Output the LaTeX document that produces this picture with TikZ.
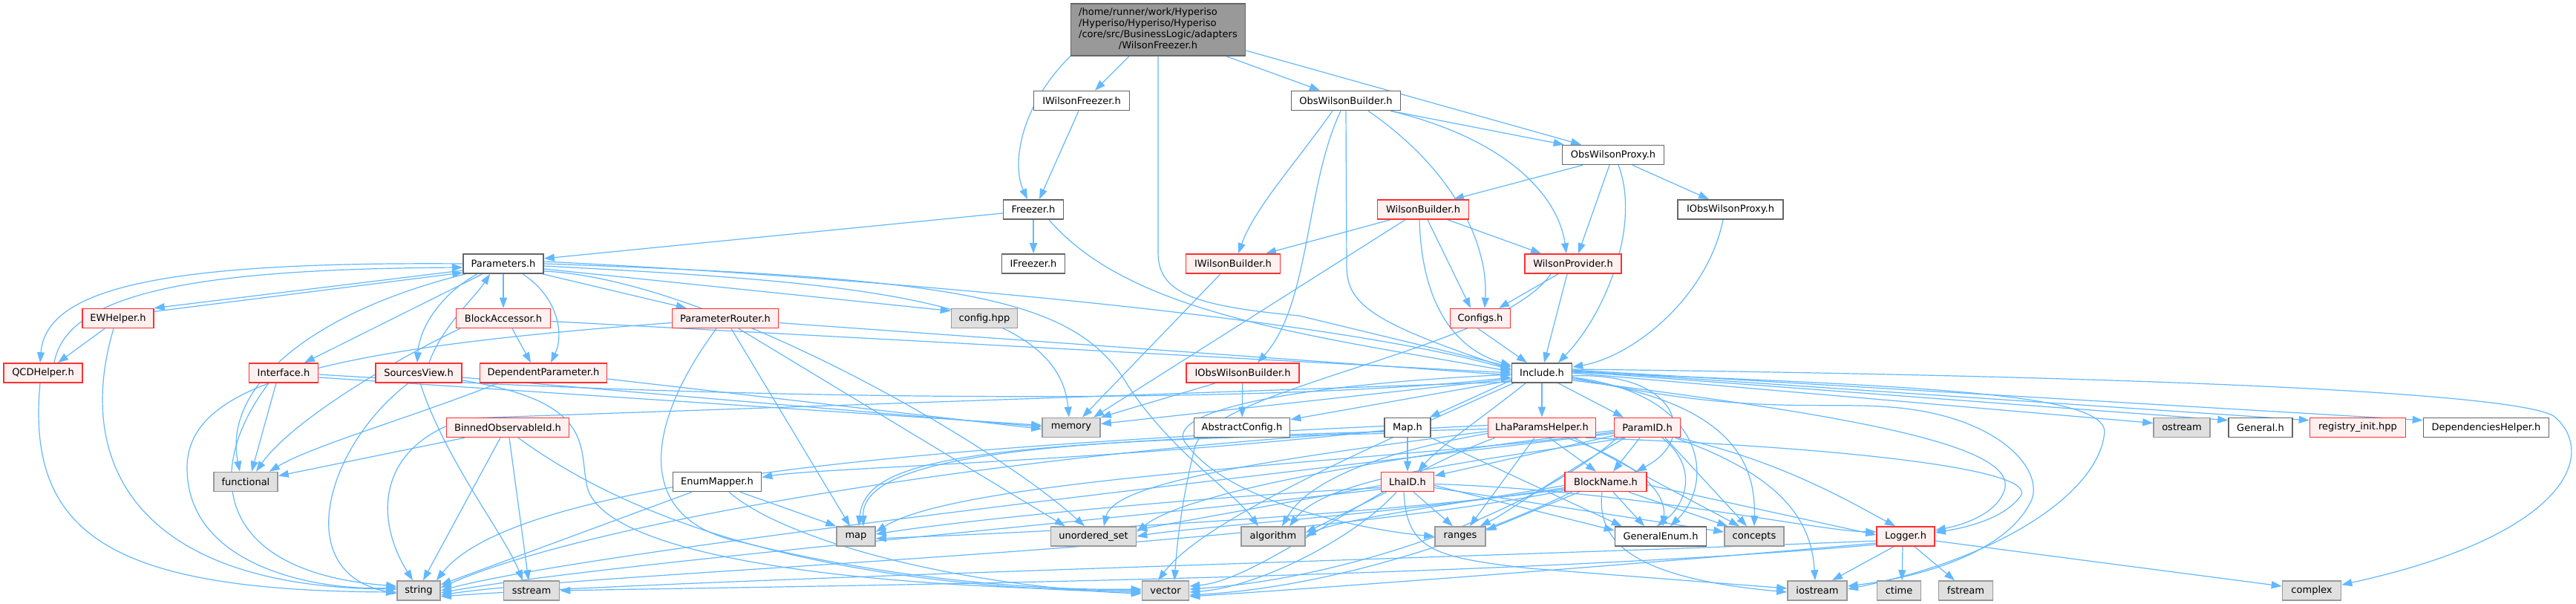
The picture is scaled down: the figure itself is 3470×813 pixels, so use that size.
\documentclass[tikz,border=0pt]{standalone}
\usepackage{fontspec}
\setmainfont{DejaVu Sans}
\usetikzlibrary{arrows.meta,calc}
\pgfdeclarelayer{bg}
\pgfsetlayers{bg,main}
\definecolor{edgec}{HTML}{63B8FF}
\definecolor{redb}{HTML}{FF3030}
\definecolor{redf}{HTML}{FFF0F0}
\definecolor{grayf}{HTML}{E0E0E0}
\definecolor{grayb}{HTML}{999999}
\definecolor{darkb}{HTML}{666666}
\definecolor{mainf}{HTML}{999999}
\tikzset{
  nb/.style={draw, line width=1.6pt, minimum height=26pt, inner sep=0pt, font=\fontsize{13}{15}\selectfont, anchor=center},
  rn/.style={nb, draw=redb, fill=redf},
  gn/.style={nb, draw=grayb, fill=grayf},
  wn/.style={nb, draw=darkb, fill=white},
  ed/.style={draw=edgec, line width=1.2pt, -{Triangle[length=14pt,width=10pt]}}
}
\begin{document}
\begin{tikzpicture}[x=1pt,y=-1pt]
\useasboundingbox (0,0) rectangle (3470,813);
% nodes
\node[nb, draw=darkb, fill=mainf, minimum width=235pt, minimum height=70pt] (top) at (1560,40) {\begin{tabular}{@{}l@{}}/home/runner/work/Hyperiso\\/Hyperiso/Hyperiso/Hyperiso\\/core/src/BusinessLogic/adapters\\\multicolumn{1}{@{}c@{}}{/WilsonFreezer.h}\end{tabular}};
\node[wn, minimum width=129pt] (IWF) at (1457,135.5) {IWilsonFreezer.h};
\node[wn, minimum width=147pt] (OWB) at (1813,135.5) {ObsWilsonBuilder.h};
\node[wn, minimum width=137pt] (OWP) at (2173,208.5) {ObsWilsonProxy.h};
\node[wn, minimum width=81pt] (Freezer) at (1392,282) {Freezer.h};
\node[rn, minimum width=123pt] (WB) at (1917,282) {WilsonBuilder.h};
\node[wn, minimum width=142pt] (IOWP) at (2331,282) {IObsWilsonProxy.h};
\node[wn, minimum width=108pt] (Params) at (678,355) {Parameters.h};
\node[wn, minimum width=85pt] (IFreezer) at (1392,355) {IFreezer.h};
\node[rn, minimum width=127pt] (IWB) at (1661,355) {IWilsonBuilder.h};
\node[rn, minimum width=130pt] (WP) at (2119,355) {WilsonProvider.h};
\node[rn, minimum width=96pt] (EW) at (159,428.5) {EWHelper.h};
\node[rn, minimum width=127pt] (BA) at (678,428.5) {BlockAccessor.h};
\node[rn, minimum width=143pt] (PR) at (977,428.5) {ParameterRouter.h};
\node[gn, minimum width=89pt] (cfghpp) at (1326,428.5) {config.hpp};
\node[rn, minimum width=81pt] (Configs) at (1994,428.5) {Configs.h};
\node[rn, minimum width=106pt] (QCD) at (58,502) {QCDHelper.h};
\node[rn, minimum width=93pt] (Interface) at (382,502) {Interface.h};
\node[rn, minimum width=116pt] (SV) at (564,502) {SourcesView.h};
\node[rn, minimum width=171pt] (DP) at (732,502) {DependentParameter.h};
\node[rn, minimum width=152pt] (IOWB) at (1674,502) {IObsWilsonBuilder.h};
\node[wn, minimum width=81pt] (Include) at (2077,502) {Include.h};
\node[rn, minimum width=165pt] (BO) at (684,575.5) {BinnedObservableId.h};
\node[gn, minimum width=78pt] (memory) at (1443,575.5) {memory};
\node[wn, minimum width=129pt] (AbsCfg) at (1673,575.5) {AbstractConfig.h};
\node[wn, minimum width=62pt] (Map) at (1896,575.5) {Map.h};
\node[rn, minimum width=145pt] (LPH) at (2077,575.5) {LhaParamsHelper.h};
\node[rn, minimum width=89pt] (ParamID) at (2219,575.5) {ParamID.h};
\node[gn, minimum width=76pt] (ostream) at (2939,575.5) {ostream};
\node[wn, minimum width=86pt] (General) at (3045,575.5) {General.h};
\node[rn, minimum width=129pt] (registry) at (3176,575.5) {registry\_init.hpp};
\node[wn, minimum width=169pt] (DepHelper) at (3349,575.5) {DependenciesHelper.h};
\node[gn, minimum width=86pt] (functional) at (331,648.5) {functional};
\node[wn, minimum width=119pt] (EM) at (966,648.5) {EnumMapper.h};
\node[rn, minimum width=71pt] (LhaID) at (1896,648.5) {LhaID.h};
\node[rn, minimum width=110pt] (BN) at (2163,648.5) {BlockName.h};
\node[gn, minimum width=52pt] (map) at (1153,722) {map};
\node[gn, minimum width=115pt] (uset) at (1473,722) {unordered\_set};
\node[gn, minimum width=86pt] (algorithm) at (1715,722) {algorithm};
\node[gn, minimum width=68pt] (ranges) at (1967,722) {ranges};
\node[wn, minimum width=123pt] (GE) at (2237,722) {GeneralEnum.h};
\node[gn, minimum width=80pt] (concepts) at (2363,722) {concepts};
\node[rn, minimum width=78pt] (Logger) at (2567,722) {Logger.h};
\node[gn, minimum width=58pt] (string) at (564,795) {string};
\node[gn, minimum width=75pt] (sstream) at (716,795) {sstream};
\node[gn, minimum width=63pt] (vector) at (1570,795) {vector};
\node[gn, minimum width=80pt] (iostream) at (2448,795) {iostream};
\node[gn, minimum width=59pt] (ctime) at (2558,795) {ctime};
\node[gn, minimum width=73pt] (fstream) at (2648,795) {fstream};
\node[gn, minimum width=79pt] (complex) at (3114,795) {complex};

\begin{pgfonlayer}{bg}
\fill[white] (0,0) rectangle (3470,813);
% top
\draw[ed] ($(top.south west)+(3,-3)$) .. controls (1375,140) and (1362,220) .. ($(Freezer.north)+(-8,0)$);
\draw[ed] ($(top.south)+(-39,0)$) -- ($(IWF.north)+(18,0)$);
\draw[ed] (top.south) -- (1560,340) .. controls (1560,395) and (1610,412) .. (1750,425) -- ($(Include.west)+(0,-8)$);
\draw[ed] ($(top.south)+(92,0)$) -- ($(OWB.north)+(-35,0)$);
\draw[ed] ($(top.east)+(0,28)$) -- ($(OWP.north)+(-43,0)$);
\draw[ed] ($(IWF.south)+(-4,0)$) -- ($(Freezer.north)+(8,0)$);
\draw[ed] ($(OWB.south)+(-18,0)$) .. controls (1745,220) and (1690,280) .. ($(IWB.north)+(7,0)$);
\draw[ed] ($(OWB.south)+(-7,0)$) .. controls (1758,250) and (1765,410) .. ($(IOWB.north)+(20,0)$);
\draw[ed] (OWB.south) -- (1814,360) .. controls (1815,410) and (1850,435) .. ($(Include.west)+(0,-5)$);
\draw[ed] ($(OWB.south)+(30,0)$) .. controls (1960,230) and (2005,330) .. ($(Configs.north)+(6,0)$);
\draw[ed] ($(OWB.south east)+(-14,0)$) .. controls (2040,190) and (2100,270) .. ($(WP.north)+(-9,0)$);
\draw[ed] ($(OWB.south east)+(-14,0)$) -- ($(OWP.north west)+(3,0)$);
\draw[ed] ($(OWP.south)+(-41,0)$) -- ($(WB.north)+(41,0)$);
\draw[ed] ($(OWP.south)+(-5,0)$) -- ($(WP.north)+(7,0)$);
\draw[ed] ($(OWP.south)+(7,0)$) .. controls (2210,300) and (2165,420) .. ($(Include.north)+(22,0)$);
\draw[ed] ($(OWP.south)+(26,0)$) -- ($(IOWP.north)+(-29,0)$);
\draw[ed] ($(Freezer.west)+(0,5)$) -- ($(Params.east)+(0,-7)$);
\draw[ed] (Freezer) -- (IFreezer);
\draw[ed] ($(Freezer.south)+(21,0)$) .. controls (1520,420) and (1750,450) .. ($(Include.west)+(0,-2)$);
\draw[ed] ($(IOWP.south)+(-10,0)$) .. controls (2300,400) and (2200,480) .. ($(Include.east)+(0,-8)$);
\draw[ed] ($(Configs.south)+(-3,0)$) -- ($(Include.north)+(-20,0)$);
\draw[ed] ($(WB.south)+(-44,0)$) -- ($(IWB.north)+(44,0)$);
\draw[ed] ($(WB.south)+(-24,0)$) -- ($(memory.north)+(30,0)$);
\draw[ed] ($(WB.south)+(-5,0)$) .. controls (1915,410) and (1960,470) .. ($(Include.west)+(0,-10)$);
\draw[ed] ($(WB.south)+(6,0)$) -- ($(Configs.north)+(-13,0)$);
\draw[ed] ($(WB.south)+(33,0)$) -- ($(WP.north)+(-43,0)$);
\draw[ed] ($(WP.south)+(-20,0)$) -- ($(Configs.north)+(25,0)$);
\draw[ed] ($(WP.south)+(-8,0)$) -- ($(Include.north)+(3,0)$);
\draw[ed] ($(WP.south)+(-30,0)$) .. controls (2020,470) and (1640,520) .. (1610,600) .. controls (1590,680) and (1585,740) .. ($(vector.north)+(12,0)$);
\draw[ed] ($(IWB.south)+(-17,0)$) -- ($(memory.north)+(15,0)$);
\draw[ed] (IOWB) -- (AbsCfg);
\draw[ed] ($(IOWB.south west)+(40,0)$) -- (memory.north east);
% Parameters
\draw[ed] (Params.west) .. controls (230,352) and (62,385) .. ($(QCD.north)+(-4,0)$);
\draw[ed] ($(QCD.north)+(15,0)$) .. controls (90,395) and (260,362) .. ($(Params.west)+(0,5)$);
\draw[ed] ($(Params.west)+(0,9)$) -- (EW.north east);
\draw[ed] ($(EW.north east)+(-3,5)$) -- ($(Params.west)+(0,12)$);
\draw[ed] (Params) -- (BA);
\draw[ed] ($(Params.south)+(-28,0)$) -- ($(Interface.north)+(28,0)$);
\draw[ed] ($(Params.south)+(-35,0)$) .. controls (595,395) and (565,440) .. ($(SV.north)+(-2,0)$);
\draw[ed] ($(SV.north)+(14,0)$) .. controls (595,440) and (640,400) .. ($(Params.south)+(-18,0)$);
\draw[ed] ($(Params.south)+(26,0)$) .. controls (752,400) and (760,450) .. ($(DP.north)+(10,0)$);
\draw[ed] ($(Params.south east)+(-2,0)$) -- ($(PR.north west)+(20,0)$);
\draw[ed] ($(Params.south west)+(4,0)$) .. controls (420,420) and (300,520) .. ($(functional.north)+(-8,0)$);
\draw[ed] ($(Params.east)+(0,7)$) -- ($(cfghpp.west)+(0,-10)$);
\draw[ed] ($(Params.east)+(0,3)$) .. controls (1150,380) and (1425,400) .. ($(memory.north)+(-3,0)$);
\draw[ed] (Params.east) .. controls (1300,375) and (1450,400) .. (1520,520) .. controls (1580,610) and (1660,660) .. ($(algorithm.north)+(-20,0)$);
\draw[ed] ($(Params.east)+(0,10)$) .. controls (950,375) and (1330,590) .. ($(uset.north)+(-12,0)$);
\draw[ed] ($(Params.east)+(0,-3)$) .. controls (1200,375) and (1800,430) .. ($(Include.west)+(0,-4)$);
% EW / QCD
\draw[ed] ($(EW.south)+(-18,0)$) -- ($(QCD.north)+(20,0)$);
\draw[ed] ($(EW.south)+(-6,0)$) .. controls (100,620) and (180,790) .. ($(string.west)+(0,-2)$);
\draw[ed] ($(QCD.south)+(-4,0)$) .. controls (35,720) and (150,795) .. ($(string.west)+(0,2)$);
% BlockAccessor
\draw[ed] ($(BA.south)+(12,0)$) -- ($(DP.north)+(-17,0)$);
\draw[ed] ($(BA.south west)+(6,0)$) .. controls (520,490) and (390,570) .. ($(functional.north)+(14,0)$);
\draw[ed] ($(BA.east)+(0,4)$) -- (Include.west);
% ParameterRouter
\draw[ed] ($(PR.west)+(0,6)$) .. controls (420,470) and (252,520) .. (252,630) .. controls (252,760) and (420,795) .. ($(string.west)+(0,-4)$);
\draw[ed] ($(PR.east)+(0,6)$) -- ($(Include.west)+(0,3)$);
\draw[ed] ($(PR.south)+(8,0)$) -- ($(map.north)+(-8,0)$);
\draw[ed] ($(PR.south)+(-12,0)$) .. controls (870,570) and (850,700) .. (1000,730) .. controls (1200,780) and (1400,795) .. ($(vector.west)+(0,-2)$);
\draw[ed] ($(PR.south)+(18,0)$) -- ($(uset.north west)+(20,0)$);
% Interface
\draw[ed] ($(Interface.south)+(-10,0)$) -- ($(functional.north)+(8,0)$);
\draw[ed] ($(Interface.south)+(-20,0)$) .. controls (275,630) and (285,770) .. ($(string.west)+(0,-6)$);
\draw[ed] ($(Interface.east)+(0,6)$) -- ($(memory.west)+(0,-3)$);
\draw[ed] ($(Interface.east)+(0,2)$) .. controls (1000,540) and (1700,545) .. ($(Include.west)+(0,6)$);
% SourcesView
\draw[ed] ($(SV.south)+(-14,0)$) .. controls (440,600) and (390,770) .. ($(string.west)+(0,4)$);
\draw[ed] ($(SV.south)+(2,0)$) .. controls (600,620) and (680,720) .. ($(sstream.north)+(-12,0)$);
\draw[ed] ($(SV.east)+(0,6)$) -- ($(memory.west)+(0,-1)$);
\draw[ed] ($(SV.east)+(0,10)$) .. controls (800,540) and (780,600) .. (790,650) .. controls (800,740) and (1100,790) .. (vector.west);
% DependentParameter
\draw[ed] ($(DP.south west)+(25,0)$) .. controls (560,560) and (420,600) .. ($(functional.north east)+(-12,0)$);
\draw[ed] ($(DP.east)+(0,8)$) -- ($(memory.west)+(0,2)$);
% BinnedObservableId
\draw[ed] ($(BO.south west)+(25,0)$) -- ($(functional.east)+(0,-8)$);
\draw[ed] ($(BO.south)+(-10,0)$) -- ($(string.north)+(6,0)$);
\draw[ed] ($(BO.south)+(2,0)$) -- ($(sstream.north)+(-4,0)$);
\draw[ed] ($(BO.south)+(14,0)$) .. controls (850,700) and (1100,790) .. ($(vector.west)+(0,2)$);
% EnumMapper
\draw[ed] ($(EM.south)+(31,0)$) -- (map.north west);
\draw[ed] ($(EM.south)+(-34,0)$) -- ($(string.east)+(0,-8)$);
\draw[ed] ($(EM.south)+(16,0)$) .. controls (1060,730) and (1300,790) .. ($(vector.west)+(0,4)$);
% Include
\draw[ed] ($(Include.west)+(0,8)$) -- ($(memory.east)+(0,-5)$);
\draw[ed] ($(Include.west)+(0,10)$) -- ($(AbsCfg.north east)+(0,3)$);
\draw[ed] ($(Include.south west)+(0,-4)$) -- ($(Map.north east)+(-2,0)$);
\draw[ed] (Include) -- (LPH);
\draw[ed] ($(Include.south)+(22,0)$) -- ($(ParamID.north)+(-32,0)$);
\draw[ed] ($(Include.south)+(-22,0)$) .. controls (2000,560) and (1940,600) .. ($(LhaID.north)+(14,0)$);
\draw[ed] ($(Include.east)+(0,4)$) .. controls (2260,500) and (2290,590) .. ($(BN.north east)+(-15,0)$);
\draw[ed] ($(Include.east)+(0,6)$) .. controls (2300,530) and (2310,650) .. ($(GE.north)+(13,0)$);
\draw[ed] ($(Include.east)+(0,8)$) .. controls (2330,540) and (2365,620) .. (concepts.north);
\draw[ed] (Include.east) -- ($(ostream.west)+(0,-6)$);
\draw[ed] ($(Include.east)+(0,-2)$) -- ($(General.north west)+(0,4)$);
\draw[ed] ($(Include.east)+(0,-3)$) -- ($(registry.north west)+(0,4)$);
\draw[ed] ($(Include.east)+(0,-4)$) -- ($(DepHelper.north west)+(0,4)$);
\draw[ed] ($(Include.east)+(0,-5)$) .. controls (2800,505) and (3380,525) .. (3440,560) .. controls (3500,610) and (3460,720) .. ($(complex.north east)+(0,6)$);
\draw[ed] ($(Include.east)+(0,6)$) .. controls (2350,560) and (2450,540) .. (2547,548) .. controls (2700,560) and (2760,640) .. (2733,680) .. controls (2700,740) and (2600,775) .. ($(iostream.east)+(0,-6)$);
\draw[ed] ($(Include.east)+(0,-1)$) .. controls (2600,520) and (2830,530) .. (2835,580) .. controls (2830,660) and (2700,750) .. ($(iostream.east)+(0,-2)$);
\draw[ed] ($(Include.south west)+(3,0)$) .. controls (1850,600) and (1620,700) .. ($(vector.north)+(-10,0)$);
\draw[ed] ($(Include.west)+(0,12)$) -- (630,563) .. controls (505,600) and (505,700) .. ($(string.north)+(-8,0)$);
\draw[ed] ($(Include.west)+(0,2)$) .. controls (1700,520) and (1560,560) .. (1600,600) .. controls (1660,680) and (1850,715) .. (ranges.west);
\draw[ed] ($(Include.east)+(0,10)$) .. controls (2500,560) and (2720,600) .. (2700,660) .. controls (2690,690) and (2650,705) .. ($(Logger.east)+(0,-8)$);
% Map
\draw[ed] (Map) -- (LhaID);
\draw[ed] ($(Map.west)+(0,4)$) .. controls (1500,620) and (1100,630) .. ($(EM.east)+(0,-6)$);
\draw[ed] ($(Map.west)+(0,8)$) .. controls (1300,595) and (1165,620) .. ($(map.north)+(4,0)$);
\draw[ed] ($(Map.west)+(0,-2)$) .. controls (1300,600) and (700,640) .. ($(string.north east)+(-6,0)$);
\draw[ed] (Map.south east) -- ($(GE.north west)+(10,0)$);
% LhaParamsHelper
\draw[ed] ($(LPH.south)+(10,0)$) -- ($(BN.north)+(-13,0)$);
\draw[ed] ($(LPH.south)+(-10,0)$) -- ($(ranges.north)+(13,0)$);
\draw[ed] ($(LPH.south east)+(-40,0)$) .. controls (2200,620) and (2245,660) .. ($(GE.north)+(3,0)$);
\draw[ed] ($(LPH.south east)+(-30,0)$) -- ($(concepts.north)+(-20,0)$);
\draw[ed] ($(LPH.south east)+(-15,0)$) .. controls (2450,600) and (2760,630) .. (2720,670) .. controls (2700,695) and (2660,708) .. ($(Logger.east)+(0,-5)$);
\draw[ed] ($(LPH.west)+(0,2)$) .. controls (1500,590) and (1160,600) .. ($(map.north)+(10,0)$);
\draw[ed] ($(LPH.west)+(0,5)$) .. controls (1700,620) and (1500,650) .. ($(uset.north)+(14,0)$);
\draw[ed] ($(LPH.west)+(0,8)$) .. controls (1850,610) and (1760,650) .. ($(algorithm.north)+(12,0)$);
\draw[ed] ($(LPH.south west)+(10,0)$) .. controls (1850,650) and (1700,780) .. ($(vector.east)+(0,-6)$);
\draw[ed] ($(LPH.west)+(0,-3)$) .. controls (1400,600) and (800,700) .. ($(string.east)+(0,-4)$);
% ParamID
\draw[ed] ($(ParamID.south)+(-10,0)$) -- ($(BN.north)+(10,0)$);
\draw[ed] ($(ParamID.south west)+(0,-3)$) -- ($(LhaID.east)+(0,-8)$);
\draw[ed] ($(ParamID.south)+(-30,0)$) .. controls (2100,640) and (2030,690) .. ($(ranges.north east)+(-8,0)$);
\draw[ed] ($(ParamID.south)+(20,0)$) .. controls (2290,630) and (2270,680) .. ($(GE.north)+(-5,0)$);
\draw[ed] ($(ParamID.south)+(24,0)$) -- ($(concepts.north)+(-10,0)$);
\draw[ed] ($(ParamID.south east)+(-4,0)$) .. controls (2400,620) and (2500,680) .. ($(Logger.north)+(-14,0)$);
\draw[ed] ($(ParamID.south east)+(-8,0)$) .. controls (2400,640) and (2440,700) .. ($(iostream.north)+(-3,0)$);
\draw[ed] ($(ParamID.south west)+(5,0)$) .. controls (2050,700) and (1800,780) .. ($(vector.east)+(0,-2)$);
\draw[ed] ($(ParamID.south west)+(15,0)$) .. controls (2000,620) and (1790,640) .. ($(algorithm.north)+(22,0)$);
\draw[ed] ($(ParamID.west)+(0,4)$) .. controls (1900,610) and (1600,660) .. ($(uset.east)+(0,-6)$);
\draw[ed] ($(ParamID.west)+(0,6)$) .. controls (1900,620) and (1300,640) .. ($(map.east)+(0,-6)$);
\draw[ed] ($(ParamID.west)+(0,8)$) .. controls (1700,640) and (800,740) .. (string.east);
% LhaID
\draw[ed] ($(LhaID.south)+(8,0)$) -- ($(ranges.north)+(-10,0)$);
\draw[ed] ($(LhaID.east)+(0,5)$) -- ($(GE.west)+(0,-8)$);
\draw[ed] ($(LhaID.east)+(0,8)$) -- ($(concepts.west)+(0,-6)$);
\draw[ed] ($(LhaID.east)+(0,3)$) .. controls (2200,660) and (2450,715) .. ($(Logger.west)+(0,-6)$);
\draw[ed] ($(LhaID.south)+(-5,0)$) .. controls (1895,740) and (1930,750) .. (2060,765) -- ($(iostream.west)+(0,-3)$);
\draw[ed] ($(LhaID.south west)+(8,0)$) -- ($(algorithm.east)+(0,-5)$);
\draw[ed] ($(LhaID.west)+(0,5)$) -- ($(uset.east)+(0,-9)$);
\draw[ed] ($(LhaID.west)+(0,8)$) .. controls (1600,670) and (1300,700) .. ($(map.east)+(0,-3)$);
\draw[ed] ($(LhaID.south)+(-15,0)$) .. controls (1830,720) and (1700,790) .. ($(vector.east)+(0,2)$);
\draw[ed] ($(LhaID.west)+(0,10)$) .. controls (1500,700) and (800,760) .. ($(string.east)+(0,3)$);
% BlockName
\draw[ed] ($(BN.south)+(10,0)$) -- ($(GE.north)+(-22,0)$);
\draw[ed] ($(BN.south east)+(-25,0)$) -- ($(concepts.north west)+(5,0)$);
\draw[ed] ($(BN.south west)+(20,0)$) -- ($(ranges.east)+(0,-8)$);
\draw[ed] ($(BN.east)+(0,4)$) -- ($(Logger.west)+(0,-2)$);
\draw[ed] ($(BN.south)+(-5,0)$) .. controls (2150,730) and (2200,778) .. ($(iostream.west)+(0,2)$);
\draw[ed] ($(BN.west)+(0,5)$) .. controls (1950,680) and (1800,700) .. (algorithm.east);
\draw[ed] ($(BN.west)+(0,8)$) .. controls (1900,690) and (1600,710) .. (uset.east);
\draw[ed] ($(BN.west)+(0,10)$) .. controls (1800,700) and (1300,720) .. ($(map.east)+(0,3)$);
\draw[ed] ($(BN.south west)+(10,0)$) .. controls (2000,720) and (1800,790) .. ($(vector.east)+(0,6)$);
\draw[ed] ($(BN.south west)+(0,-2)$) .. controls (1700,740) and (800,770) .. ($(string.east)+(0,6)$);
% Logger
\draw[ed] ($(Logger.south)+(-16,0)$) -- ($(iostream.north)+(20,0)$);
\draw[ed] ($(Logger.south)+(-4,0)$) -- ($(ctime.north)+(4,0)$);
\draw[ed] ($(Logger.south)+(12,0)$) -- ($(fstream.north)+(-15,0)$);
\draw[ed] ($(Logger.east)+(0,6)$) -- ($(complex.west)+(0,-6)$);
\draw[ed] ($(Logger.west)+(0,6)$) .. controls (2000,750) and (900,780) .. ($(string.east)+(0,8)$);
\draw[ed] ($(Logger.west)+(0,9)$) .. controls (2200,760) and (1800,790) .. ($(vector.east)+(0,8)$);
\draw[ed] ($(Logger.west)+(0,11)$) .. controls (2000,780) and (1000,790) .. (sstream.east);
\end{pgfonlayer}
\end{tikzpicture}
\end{document}
